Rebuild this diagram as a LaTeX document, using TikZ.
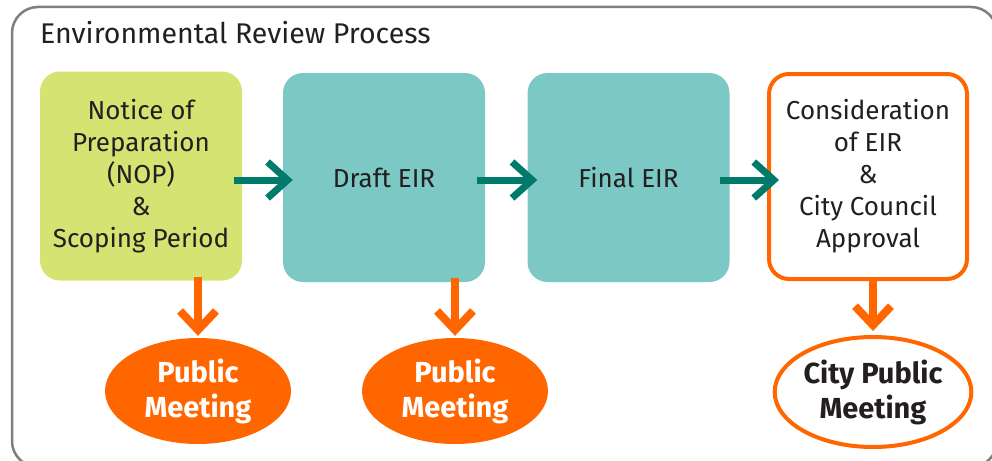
\documentclass[tikz,border=0pt]{standalone}
\usepackage{fontspec}
\setmainfont{Fira Sans}
\usetikzlibrary{arrows.meta,shapes.geometric,calc}
\definecolor{nopgreen}{HTML}{D4E372}
\definecolor{boxteal}{HTML}{7CC8C5}
\definecolor{arrteal}{HTML}{007A6A}
\definecolor{orng}{HTML}{FF6600}
\definecolor{frame}{HTML}{7F7F7F}
\definecolor{txt}{HTML}{231F20}
\tikzset{
  stepbox/.style={rounded corners=20pt, minimum width=202pt, minimum height=209pt, align=center, text=txt, font=\fontsize{26}{32}\selectfont, inner sep=0pt},
  pubmeet/.style={ellipse, minimum width=186pt, minimum height=106pt, align=center, font=\bfseries\fontsize{29}{35}\selectfont, inner sep=0pt},
  flowarr/.style={draw=arrteal, line width=7pt, -{Straight Barb[length=20pt,width=36pt,line width=7pt]}},
  downarr/.style={draw=orng, line width=8pt, -{Straight Barb[length=19pt,width=36pt,line width=8pt]}},
}
\begin{document}
\begin{tikzpicture}[x=1pt,y=-1pt]
\useasboundingbox (0,0) rectangle (992,460);
\begin{scope}
\clip (0,0) rectangle (992,460);
\draw[frame, line width=2.5pt, rounded corners=26pt] (12,7) rectangle (997,467);
\end{scope}
\node[anchor=base west, text=txt, font=\fontsize{28.5}{32}\selectfont, inner sep=0pt] (title) at (40,44) {Environmental Review Process};
\node[stepbox, fill=nopgreen] (nop) at (141,176) {Notice of\\Preparation\\(NOP)\\\&\\Scoping Period};
\node[stepbox, fill=boxteal] (draft) at (384,177.5) {Draft EIR};
\node[stepbox, fill=boxteal] (final) at (628.5,177.5) {Final EIR};
\node[stepbox, draw=orng, line width=4pt, fill=white, minimum width=198pt, minimum height=205pt] (cons) at (868,176.5) {Consideration\\of EIR\\\&\\City Council\\Approval};
\node[pubmeet, fill=orng, text=white] (pm1) at (198,391) {Public\\Meeting};
\node[pubmeet, fill=orng, text=white] (pm2) at (455,391) {Public\\Meeting};
\node[pubmeet, draw=orng, line width=4pt, fill=white, text=txt, minimum width=190pt, minimum height=110pt] (pm3) at (873,392) {City Public\\Meeting};
\draw[flowarr] ($(nop.east)+(-8,4)$) -- ($(draft.west)+(10,2.5)$);
\draw[flowarr] ($(draft.east)+(-8,2.5)$) -- ($(final.west)+(10,2.5)$);
\draw[flowarr] ($(final.east)+(-10,2.5)$) -- ($(cons.west)+(12,3.5)$);
\draw[downarr] ($(nop.south)+(57,-4)$) -- ($(pm1.north)+(0,-2)$);
\draw[downarr] ($(draft.south)+(71,-4)$) -- ($(pm2.north)+(0,-2)$);
\draw[downarr] ($(cons.south)+(5,-4)$) -- ($(pm3.north)+(0,-4)$);
\end{tikzpicture}
\end{document}
